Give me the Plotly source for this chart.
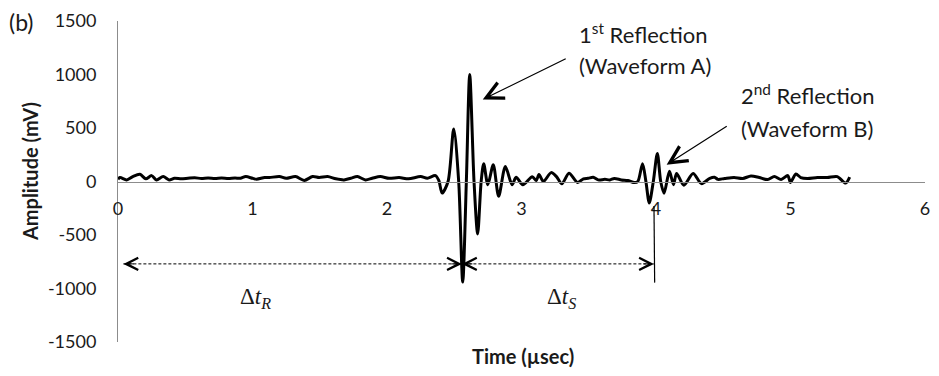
import plotly.graph_objects as go

# ---- data ----
time_us = [0.00, 0.015, 0.064, 0.11, 0.163, 0.207, 0.25, 0.286, 0.336, 0.38, 0.42, 0.47,
           0.52, 0.57, 0.62, 0.67, 0.72, 0.77, 0.82, 0.87, 0.91, 0.95, 1.0, 1.03, 1.09, 1.126,
           1.2, 1.25, 1.32, 1.385, 1.447, 1.496, 1.558, 1.62, 1.68, 1.73, 1.78, 1.84, 1.89,
           1.95, 2.015, 2.09, 2.16, 2.25, 2.30, 2.36,
           2.385, 2.41, 2.454, 2.496, 2.533, 2.563, 2.59, 2.615, 2.647, 2.674, 2.70, 2.719,
           2.75, 2.79, 2.83, 2.88, 2.93, 2.96, 3.01, 3.08, 3.11, 3.13, 3.163, 3.22, 3.26,
           3.30, 3.353, 3.417, 3.46, 3.496, 3.533, 3.57, 3.62, 3.657, 3.69, 3.743, 3.79, 3.84,
           3.865, 3.90, 3.925, 3.95, 3.98, 4.01, 4.035, 4.06, 4.10, 4.13, 4.153, 4.207, 4.276,
           4.338, 4.40, 4.435, 4.46, 4.51, 4.58, 4.645, 4.706, 4.768, 4.83, 4.88, 4.93, 4.98,
           5.0, 5.04, 5.076, 5.126, 5.2, 5.274, 5.348, 5.41, 5.44]
amplitude_mv = [20, 37, 15, 46, 67, 25, 55, 15, 46, 15, 30, 25,
                30, 35, 28, 33, 27, 32, 28, 33, 30, 46, 30, 22, 37, 37,
                46, 30, 46, 10, 46, 37, 46, 25, 15, 30, 46, 15, 30,
                46, 30, 37, 25, 46, 30, 55,
                10, -108, 0, 490, 0, -940, 0, 1000, 0, -490, 0, 166,
                -30, 157, -138, 140, -30, 40, -30, 45, 10, 65, 0, 83, 46,
                -21, 77, -9, 25, 30, 40, 15, 20, 15, 28, 15, 9, -10,
                0, 166, 0, -200, 0, 262, 0, -110, 95, -30, 75, -35, 75,
                -20, 30, 40, 20, 28, 37, 28, 52, 37, 18, 46, 18, 55,
                -9, 70, 37, 28, 37, 37, 46, -15, 40]

x_ticks = [0, 1, 2, 3, 4, 5, 6]
y_ticks = [-1500, -1000, -500, 0, 500, 1000, 1500]
y_tick_text = [str(v) for v in y_ticks]

# interval markers (time, amplitude)
t_start, t_refl1, t_refl2 = 0.04, 2.557, 3.985
y_interval = -770
marker_top, marker_bottom = -230, -945

FONT = "Lato"
TXT = "#1a1a1a"

fig = go.Figure()
fig.add_trace(go.Scatter(x=time_us, y=amplitude_mv, mode="lines",
                         line=dict(color="black", width=3, shape="spline", smoothing=0.8),
                         showlegend=False, hoverinfo="skip"))

fig.update_layout(
    width=939, height=376,
    margin=dict(l=118, r=9, t=18, b=34),
    paper_bgcolor="white", plot_bgcolor="white",
    font=dict(family=FONT, size=18, color=TXT),
    xaxis=dict(range=[0, 6], tickvals=x_ticks, anchor="free", position=0.5,
               showline=True, linecolor="#8c8c8c", linewidth=1, showgrid=False,
               zeroline=False, ticks="outside", ticklen=11, tickcolor="rgba(0,0,0,0)",
               tickfont=dict(family=FONT, size=18, color=TXT)),
    yaxis=dict(range=[-1500, 1500], tickvals=y_ticks, ticktext=y_tick_text,
               showline=True, linecolor="#8c8c8c",
               linewidth=1, showgrid=False, zeroline=False, ticks="outside", ticklen=17,
               tickcolor="rgba(0,0,0,0)", tickfont=dict(family=FONT, size=18, color=TXT)),
)

# dashed interval line and vertical marker
fig.add_shape(type="line", x0=t_start, x1=t_refl2, y0=y_interval, y1=y_interval,
              line=dict(color="black", width=1, dash="3px,2px"))
fig.add_shape(type="line", x0=t_refl2, x1=t_refl2 + 0.005, y0=marker_top, y1=marker_bottom,
              line=dict(color="black", width=1.2))

# chevron arrowheads on the interval line
for tip, off in [(t_start, 12), (t_refl1, -12), (t_refl1, 12), (t_refl2, -12)]:
    fig.add_annotation(x=tip, y=y_interval, ax=off, ay=0, text="", showarrow=True,
                       arrowhead=5, arrowsize=2.4, arrowwidth=1, arrowcolor="black")

# reflection pointer arrows
fig.add_annotation(x=2.712, y=766, ax=3.34, ay=1154, axref="x", ayref="y", text="",
                   showarrow=True, arrowhead=5, arrowsize=2.8, arrowwidth=1.2, arrowcolor="black")
fig.add_annotation(x=4.079, y=157, ax=4.537, ay=526, axref="x", ayref="y", text="",
                   showarrow=True, arrowhead=5, arrowsize=2.8, arrowwidth=1.2, arrowcolor="black")

labels = [
    ("1<sup>st</sup> Reflection", 3.414, 1385),
    ("(Waveform A)", 3.414, 1085),
    ("2<sup>nd</sup> Reflection", 4.618, 810),
    ("(Waveform B)", 4.618, 495),
]
for txt, xx, yy in labels:
    fig.add_annotation(x=xx, y=yy, text=txt, showarrow=False, xanchor="left", yanchor="middle",
                       font=dict(family=FONT, size=22, color=TXT))

for txt, xx in [("Δ<i>t</i><sub><i>R</i></sub>", 1.02), ("Δ<i>t</i><sub><i>S</i></sub>", 3.3)]:
    fig.add_annotation(x=xx, y=-1093, text=txt, showarrow=False, xanchor="center",
                       yanchor="middle", font=dict(family="Liberation Serif", size=23, color=TXT))

# axis titles and panel label
fig.add_annotation(xref="paper", yref="paper", x=-0.1096, y=0.531, text="<b>Amplitude (mV)</b>",
                   textangle=-90, showarrow=False, xanchor="center", yanchor="middle",
                   font=dict(family=FONT, size=20, color=TXT))
fig.add_annotation(xref="paper", yref="paper", x=0.502, y=-0.043, text="<b>Time (µsec)</b>",
                   showarrow=False, xanchor="center", yanchor="middle",
                   font=dict(family=FONT, size=20, color=TXT))
fig.add_annotation(xref="paper", yref="paper", x=-0.1375, y=0.997, text="(b)",
                   showarrow=False, xanchor="left", yanchor="middle",
                   font=dict(family=FONT, size=23, color=TXT))

fig.write_html("out.html")
